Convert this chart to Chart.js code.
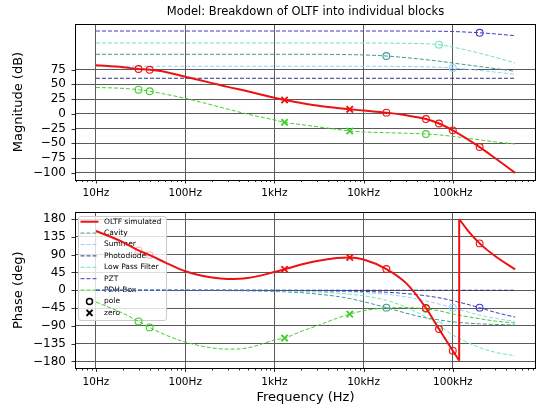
<!DOCTYPE html>
<html>
<head>
<meta charset="utf-8">
<script src="https://cdn.jsdelivr.net/npm/chart.js@4.4.1/dist/chart.umd.min.js"></script>
<style>
	html, body { margin: 0; padding: 0; background: #fff; }
	#wrap { position: relative; width: 536px; height: 406px; overflow: hidden; }
	#wrap canvas { position: absolute; left: 0; }
	#mag { top: 0; }
	#phase { top: 200px; }
</style>
</head>
<body>
<div id="wrap">
	<canvas id="mag" width="536" height="200"></canvas>
	<canvas id="phase" width="536" height="206"></canvas>
</div>
<script>
const freq = [10, 20, 30, 40, 60, 100, 200, 300, 500, 1000, 1300, 2000, 3000, 5000, 7000, 10000, 18000, 30000, 50000, 70000, 100000, 200000, 300000, 500000];

// magnitude (dB)
const magOLTF = [82.3, 78.8, 75.9, 74.5, 70.9, 62.8, 52.0, 45.6, 38.2, 27.3, 23.4, 18.3, 13.9, 9.9, 7.6, 5.5, 2.0, -2.5, -8.9, -16.4, -28.0, -56.3, -75.3, -100.0];
const magCavity = [100.8, 100.8, 100.8, 100.8, 100.8, 100.8, 100.8, 100.8, 100.8, 100.8, 100.8, 100.8, 100.8, 100.5, 100.2, 99.7, 97.9, 95.1, 91.7, 89.2, 86.0, 80.1, 76.6, 72.1];
const magSummer = [80.5, 80.5, 80.5, 80.5, 80.5, 80.5, 80.5, 80.5, 80.5, 80.5, 80.5, 80.5, 80.5, 80.5, 80.5, 80.5, 80.4, 80.1, 79.5, 78.8, 77.5, 73.5, 70.6, 66.7];
const magPhotodiode = [60.2, 60.2, 60.2, 60.2, 60.2, 60.2, 60.2, 60.2, 60.2, 60.2, 60.2, 60.2, 60.2, 60.2, 60.2, 60.2, 60.2, 60.2, 60.2, 60.2, 60.2, 60.2, 60.2, 60.2];
const magLPF = [119.9, 119.9, 119.9, 119.9, 119.9, 119.9, 119.9, 119.9, 119.9, 119.9, 119.9, 119.9, 119.9, 119.9, 119.9, 119.9, 119.7, 119.3, 118.7, 117.1, 113.0, 102.6, 95.6, 86.2];
const magPZT = [140.2, 140.2, 140.2, 140.2, 140.2, 140.2, 140.2, 140.2, 140.2, 140.2, 140.2, 140.2, 140.2, 140.2, 140.2, 140.2, 140.2, 140.2, 140.0, 139.8, 139.4, 137.2, 135.3, 132.3];
const magPDH = [44.6, 43.1, 40.8, 38.2, 33.2, 26.3, 14.9, 7.9, -0.5, -10.4, -14.4, -18.3, -21.8, -26.3, -29.1, -30.7, -32.0, -32.9, -34.2, -35.7, -38.2, -44.1, -47.6, -51.1];

// phase (deg)
const phaseCavity = [0, 0, 0, 0, 0, -0.5, -0.5, -1, -1.5, -3, -4, -6, -9.5, -15.5, -21, -29, -44, -58, -70, -75, -80, -85, -86.5, -88];
const phaseSummer = [0, 0, 0, 0, 0, 0, 0, 0, -0.3, -0.5, -0.7, -1, -2, -3, -4, -6, -10, -17, -27, -35, -44, -63, -71, -79];
const phasePhotodiode = [0, 0, 0, 0, 0, 0, 0, 0, 0, 0, 0, 0, 0, 0, 0, 0, 0, 0, 0, 0, 0, 0, 0, 0];
const phaseLPF = [0, 0, 0, 0, 0, 0, -0.3, -0.5, -0.7, -1.4, -1.8, -2.8, -4.3, -7, -10, -14, -25.5, -43, -68, -89, -113, -145, -157, -166];
const phasePZT = [0, 0, 0, 0, 0, 0, 0, 0, 0, -0.3, -0.4, -0.6, -0.9, -1.5, -2, -3, -5, -8.5, -14, -19, -26.5, -44, -56, -68];
const phasePDH = [-30, -58, -79, -94, -113, -131, -146, -149, -146, -126, -121, -104, -90, -71, -60.5, -52, -45, -44, -47, -52, -60, -72, -78, -83];

// OLTF phase wraps from -180 to +180 near 118 kHz
const oltfFreqA = [10, 20, 30, 40, 60, 100, 200, 300, 500, 1000, 1300, 2000, 3000, 5000, 7000, 10000, 18000, 30000, 50000, 70000, 100000, 118000];
const phaseOLTFA = [150, 122, 101, 89, 70, 48, 32, 28.5, 31, 46, 53, 65, 74, 81.5, 83, 78, 53.7, 18, -45, -98, -153, -178];
const wrapFreq = [118000, 118000];
const wrapPhase = [-178, 180];
const oltfFreqB = [118000, 150000, 200000, 300000, 500000];
const phaseOLTFB = [180, 149, 118.6, 86, 53];

// pole / zero marker frequencies
const polesOLTF = [30, 40, 18000, 50000, 70000, 100000, 200000];
const zerosOLTF = [1300, 7000];
const polesPDH = [30, 40, 50000];
const zerosPDH = [1300, 7000];
const polesCavity = [18000];
const polesSummer = [100000];
const polesLPF = [70000];
const polesPZT = [200000];

// axes
const xTickValues = [10, 100, 1000, 10000, 100000];
const xTickLabels = ['10Hz', '100Hz', '1kHz', '10kHz', '100kHz'];
const magTicks = [75, 50, 25, 0, -25, -50, -75, -100];
const phaseTicks = [180, 135, 90, 45, 0, -45, -90, -135, -180];

const colOLTF = '#ee1111';
const colCavity = '#3d9a94';
const colSummer = '#92d3f5';
const colPhotodiode = '#2b3580';
const colLPF = '#6fe3c2';
const colPZT = '#3c3cc4';
const colPDH = '#45cc30';
const gridColor = '#5a5a5a';
const FONT = 'DejaVu Sans';

Chart.defaults.font.family = FONT;

function kind(c) {
	if(!c.raw || !c.dataset) return null;
	if(c.dataset.poles.includes(c.raw.x)) return 'pole';
	if(c.dataset.zeros.includes(c.raw.x)) return 'zero';
	return null;
}

function mk(label, xs, ys, color, o) {
	o = o || {};
	return {
		label: label,
		data: xs.map((x, i) => ({x: x, y: ys[i]})),
		borderColor: color,
		borderWidth: o.solid ? 2 : 1,
		borderDash: o.solid ? [] : [4, 2],
		cubicInterpolationMode: o.straight ? 'default' : 'monotone',
		tension: 0,
		fill: false,
		order: o.order || 0,
		poles: o.poles || [],
		zeros: o.zeros || [],
		fadeBelow: o.fadeBelow || 0,
		pointRadius: c => { const k = kind(c); return k === 'zero' ? 4.5 : (k === 'pole' ? 3.4 : 0); },
		pointStyle: c => kind(c) === 'zero' ? 'crossRot' : 'circle',
		pointBorderWidth: c => kind(c) === 'zero' ? 1.8 : 1.1,
		pointBorderColor: c => (c.raw && c.raw.x < c.dataset.fadeBelow) ? 'rgba(238,17,17,0.3)' : color,
		pointBackgroundColor: 'rgba(0,0,0,0)',
		pointHoverRadius: 0,
		pointHitRadius: 0
	};
}

function fmtY(v) {
	return v < 0 ? '\u2212' + Math.abs(v) : String(v);
}

// spines on top/right and the small tick marks
const axesExtras = {
	id: 'axesExtras',
	afterDraw(chart) {
		const ctx = chart.ctx;
		const a = chart.chartArea;
		const x = chart.scales.x, y = chart.scales.y;
		ctx.save();
		ctx.strokeStyle = '#000';
		ctx.lineWidth = 1;
		ctx.beginPath();
		ctx.moveTo(a.left, a.top + 0.5);
		ctx.lineTo(a.right, a.top + 0.5);
		ctx.moveTo(a.right - 0.5, a.top);
		ctx.lineTo(a.right - 0.5, a.bottom);
		ctx.stroke();
		ctx.lineWidth = 0.8;
		ctx.beginPath();
		for(let e = 0; e < 7; e++) {
			for(let m = 1; m < 10; m++) {
				const v = m * Math.pow(10, e);
				if(v < x.min || v > x.max) continue;
				const px = Math.round(x.getPixelForValue(v)) + 0.5;
				ctx.moveTo(px, a.bottom);
				ctx.lineTo(px, a.bottom + (m === 1 ? 3.5 : 2));
			}
		}
		y.ticks.forEach(t => {
			const py = Math.round(y.getPixelForValue(t.value)) + 0.5;
			ctx.moveTo(a.left - 3.5, py);
			ctx.lineTo(a.left, py);
		});
		ctx.stroke();
		ctx.restore();
	}
};

const titlePlugin = {
	id: 'figTitle',
	afterDraw(chart) {
		const ctx = chart.ctx;
		const a = chart.chartArea;
		ctx.save();
		ctx.fillStyle = '#000';
		ctx.font = '11.5px "' + FONT + '"';
		ctx.textAlign = 'center';
		ctx.textBaseline = 'middle';
		ctx.fillText('Model: Breakdown of OLTF into individual blocks', (a.left + a.right) / 2, 12);
		ctx.restore();
	}
};

const legendItems = [
	{label: 'OLTF simulated', color: colOLTF, solid: true},
	{label: 'Cavity', color: colCavity},
	{label: 'Summer', color: colSummer},
	{label: 'Photodiode', color: colPhotodiode},
	{label: 'Low Pass Filter', color: colLPF},
	{label: 'PZT', color: colPZT},
	{label: 'PDH Box', color: colPDH},
	{label: 'pole', marker: 'circle'},
	{label: 'zero', marker: 'x'}
];

// legend sits under the curves, as in the reference
const legendPlugin = {
	id: 'phaseLegend',
	beforeDatasetsDraw(chart) {
		const ctx = chart.ctx;
		const x0 = 78.5, y0 = 16.5, w = 88, h = 104, r = 2.5;
		ctx.save();
		ctx.beginPath();
		ctx.moveTo(x0 + r, y0);
		ctx.arcTo(x0 + w, y0, x0 + w, y0 + h, r);
		ctx.arcTo(x0 + w, y0 + h, x0, y0 + h, r);
		ctx.arcTo(x0, y0 + h, x0, y0, r);
		ctx.arcTo(x0, y0, x0 + w, y0, r);
		ctx.closePath();
		ctx.fillStyle = 'rgba(255,255,255,0.8)';
		ctx.fill();
		ctx.strokeStyle = '#cccccc';
		ctx.lineWidth = 1;
		ctx.stroke();
		ctx.font = '7.5px "' + FONT + '"';
		ctx.textBaseline = 'middle';
		legendItems.forEach((it, i) => {
			const yy = 21.7 + i * 11.4;
			if(it.marker === 'circle') {
				ctx.setLineDash([]);
				ctx.strokeStyle = '#000';
				ctx.lineWidth = 1.5;
				ctx.beginPath();
				ctx.arc(89.5, yy, 3, 0, Math.PI * 2);
				ctx.stroke();
			} else if(it.marker === 'x') {
				ctx.setLineDash([]);
				ctx.strokeStyle = '#000';
				ctx.lineWidth = 2;
				ctx.beginPath();
				ctx.moveTo(86.5, yy - 3); ctx.lineTo(92.5, yy + 3);
				ctx.moveTo(92.5, yy - 3); ctx.lineTo(86.5, yy + 3);
				ctx.stroke();
			} else {
				ctx.strokeStyle = it.color;
				ctx.lineWidth = it.solid ? 2 : 1;
				ctx.setLineDash(it.solid ? [] : [4, 2]);
				ctx.beginPath();
				ctx.moveTo(80.5, yy);
				ctx.lineTo(98.5, yy);
				ctx.stroke();
			}
			ctx.fillStyle = '#000';
			ctx.fillText(it.label, 104, yy);
		});
		ctx.restore();
	}
};

function makeOptions(cfg) {
	return {
		responsive: false,
		animation: false,
		events: [],
		layout: {padding: {top: cfg.padTop, left: 0, right: 0, bottom: 0}},
		plugins: {legend: {display: false}, tooltip: {enabled: false}, title: {display: false}},
		scales: {
			x: {
				type: 'logarithmic',
				min: 5.817,
				max: 857000,
				afterBuildTicks: s => { s.ticks = xTickValues.map(v => ({value: v})); },
				afterFit: s => { s.height = cfg.xHeight; s.paddingLeft = 0; s.paddingRight = 0; },
				ticks: {
					autoSkip: false,
					maxRotation: 0,
					padding: 7,
					color: '#000',
					font: {family: FONT, size: 10.5},
					callback: v => xTickLabels[xTickValues.indexOf(v)] || ''
				},
				grid: {color: gridColor, lineWidth: 1, drawTicks: false},
				border: {display: true, color: '#000', width: 1},
				title: {
					display: !!cfg.xTitle,
					text: cfg.xTitle || '',
					color: '#000',
					font: {family: FONT, size: 13},
					padding: {top: 0, bottom: 1}
				}
			},
			y: {
				type: 'linear',
				min: cfg.yMin,
				max: cfg.yMax,
				afterBuildTicks: s => { s.ticks = cfg.yTicks.map(v => ({value: v})); },
				afterFit: s => { s.width = 75; s.paddingTop = 0; s.paddingBottom = 0; },
				ticks: {
					padding: 9,
					color: '#000',
					font: {family: FONT, size: 12, lineHeight: 1},
					callback: v => fmtY(v)
				},
				grid: {color: gridColor, lineWidth: 1, drawTicks: false},
				border: {display: true, color: '#000', width: 1},
				title: {
					display: true,
					text: cfg.yTitle,
					color: '#000',
					font: {family: FONT, size: 13},
					padding: {top: 10.5, bottom: 0}
				}
			}
		}
	};
}

new Chart(document.getElementById('mag'), {
	type: 'line',
	data: {
		datasets: [
			mk('OLTF simulated', freq, magOLTF, colOLTF, {solid: true, poles: polesOLTF, zeros: zerosOLTF, order: 0}),
			mk('PDH Box', freq, magPDH, colPDH, {poles: polesPDH, zeros: zerosPDH, order: 1}),
			mk('PZT', freq, magPZT, colPZT, {poles: polesPZT, order: 2}),
			mk('Low Pass Filter', freq, magLPF, colLPF, {poles: polesLPF, order: 3}),
			mk('Photodiode', freq, magPhotodiode, colPhotodiode, {order: 4}),
			mk('Summer', freq, magSummer, colSummer, {poles: polesSummer, order: 5}),
			mk('Cavity', freq, magCavity, colCavity, {poles: polesCavity, order: 6})
		]
	},
	options: makeOptions({padTop: 24, xHeight: 20, yMin: -112.1, yMax: 152.1, yTicks: magTicks, yTitle: 'Magnitude (dB)'}),
	plugins: [axesExtras, titlePlugin]
});

new Chart(document.getElementById('phase'), {
	type: 'line',
	data: {
		datasets: [
			mk('OLTF simulated', oltfFreqA, phaseOLTFA, colOLTF, {solid: true, poles: polesOLTF, zeros: zerosOLTF, order: 0, fadeBelow: 60}),
			mk('OLTF wrap', wrapFreq, wrapPhase, colOLTF, {solid: true, straight: true, order: 0}),
			mk('OLTF simulated (wrapped)', oltfFreqB, phaseOLTFB, colOLTF, {solid: true, poles: polesOLTF, order: 0}),
			mk('PDH Box', freq, phasePDH, colPDH, {poles: polesPDH, zeros: zerosPDH, order: 1}),
			mk('PZT', freq, phasePZT, colPZT, {poles: polesPZT, order: 2}),
			mk('Low Pass Filter', freq, phaseLPF, colLPF, {poles: polesLPF, order: 3}),
			mk('Photodiode', freq, phasePhotodiode, colPhotodiode, {order: 4}),
			mk('Summer', freq, phaseSummer, colSummer, {poles: polesSummer, order: 5}),
			mk('Cavity', freq, phaseCavity, colCavity, {poles: polesCavity, order: 6})
		]
	},
	options: makeOptions({padTop: 12, xHeight: 37.5, yMin: -198, yMax: 198, yTicks: phaseTicks, yTitle: 'Phase (deg)', xTitle: 'Frequency (Hz)'}),
	plugins: [axesExtras, legendPlugin]
});
</script>
</body>
</html>
